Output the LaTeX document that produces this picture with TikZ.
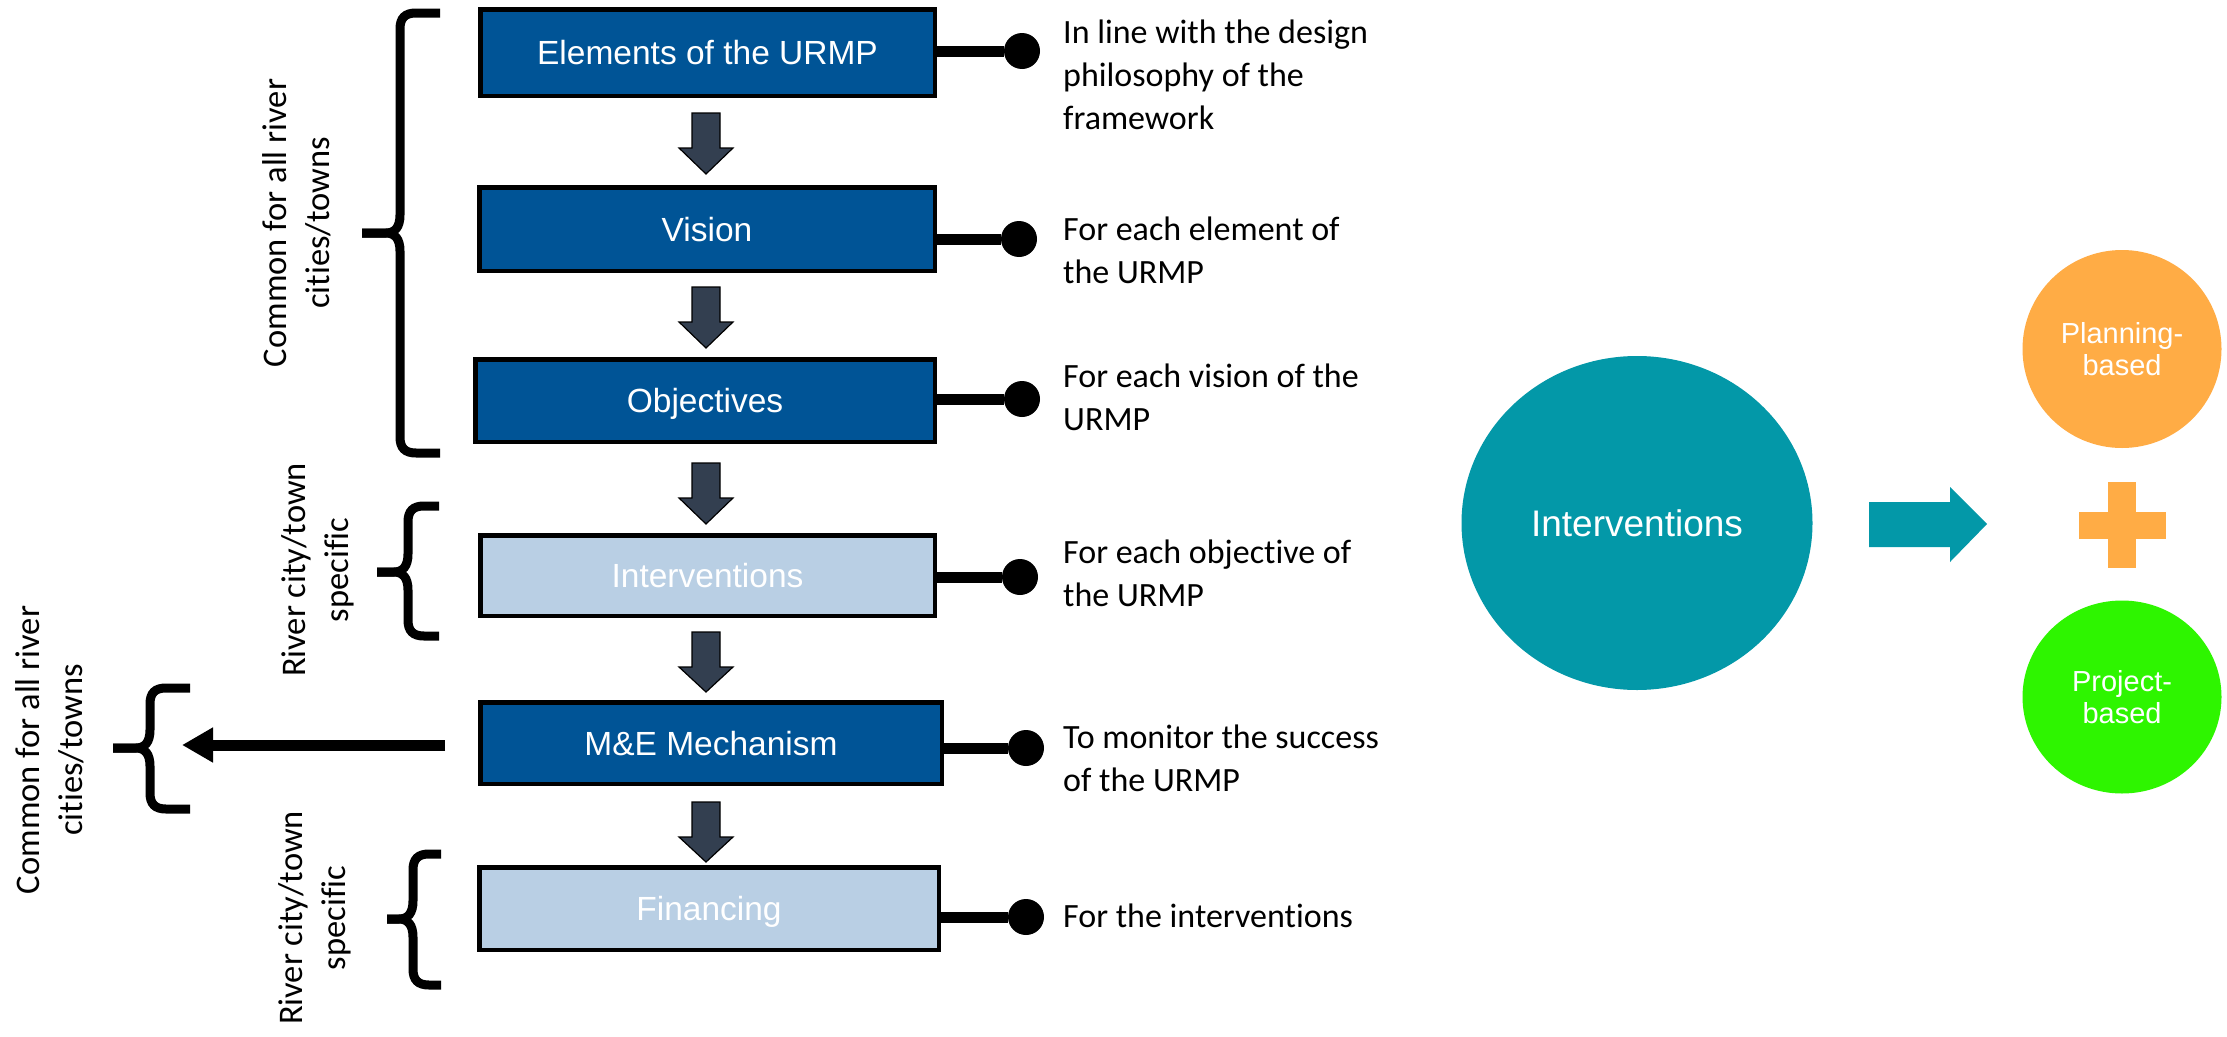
\documentclass[tikz,border=0pt]{standalone}
\usepackage{fontspec}
\setmainfont{Carlito}[Ligatures=NoCommon]
\newfontfamily\arialf{Liberation Sans}
\usetikzlibrary{shapes.geometric,arrows.meta,calc}
\definecolor{dblue}{HTML}{005496}
\definecolor{lblue}{HTML}{B9CFE4}
\definecolor{arrg}{HTML}{333F50}
\definecolor{tealc}{HTML}{0398A8}
\definecolor{orangec}{HTML}{FFAC45}
\definecolor{greenc}{HTML}{2EF500}
\tikzset{
  bx/.style={rectangle, draw=black, line width=4.5pt, inner sep=0pt,
    font=\arialf\fontsize{33.5}{38}\selectfont, text=white, text height=24pt, text depth=0pt},
  dbx/.style={bx, fill=dblue},
  lbx/.style={bx, fill=lblue},
  darrow/.style={fill=arrg, draw=black, line width=1.2pt, line join=miter},
  conn/.style={line width=11pt, draw=black},
  dot/.style={circle, fill=black, inner sep=0pt, minimum size=36pt},
  note/.style={anchor=base west, align=left, inner sep=0pt, font=\fontsize{34}{43}\selectfont},
  rot/.style={rotate=90, align=center, inner sep=0pt, font=\fontsize{34.5}{43}\selectfont},
  bracestyle/.style={line width=9pt, draw=black, line cap=butt},
  larrow/.style={line width=11pt, draw=black, -{Triangle[length=31pt,width=33pt]}},
  blob/.style={ellipse, inner sep=0pt, text=white, align=center}
}
\newcommand\dnarrow[3]{\draw[darrow] ({#1-14},#2) -- ({#1+14},#2) -- ({#1+14},{#2+35}) -- ({#1+27},{#2+35}) -- (#1,#3) -- ({#1-27},{#2+35}) -- ({#1-14},{#2+35}) -- cycle;}
\newcommand\mybrace[6]{%
  \draw[bracestyle] (#3,#4) -- ({#2+16},#4) .. controls ({#2+5},#4) and (#2,{#4+5}) .. (#2,{#4+16})
     -- (#2,{#5-18}) .. controls (#2,{#5-6}) and ({#2-5},#5) .. ({#2-14},#5) -- (#1,#5);
  \draw[bracestyle] (#3,#6) -- ({#2+16},#6) .. controls ({#2+5},#6) and (#2,{#6-5}) .. (#2,{#6-16})
     -- (#2,{#5+18}) .. controls (#2,{#5+6}) and ({#2-5},#5) .. ({#2-14},#5) -- (#1,#5);
}
\begin{document}
\begin{tikzpicture}[x=1pt,y=-1pt]
\fill[white] (0,0) rectangle (2227,1036);
\useasboundingbox (0,0) rectangle (2227,1036);

% boxes
\node[dbx, minimum width=454.5pt, minimum height=86.5pt] (bE) at (707.5,52.5) {Elements of the URMP};
\node[dbx, minimum width=455.5pt, minimum height=83.5pt] (bV) at (707,229) {Vision};
\node[dbx, minimum width=459.5pt, minimum height=82.5pt] (bO) at (705,400.5) {Objectives};
\node[lbx, minimum width=454.5pt, minimum height=80.5pt] (bI) at (707.5,575.5) {Interventions};
\node[dbx, minimum width=461.5pt, minimum height=81.5pt] (bM) at (711,743) {M\&E Mechanism};
\node[lbx, minimum width=459.5pt, minimum height=82.5pt] (bF) at (709,908.5) {Financing};

% down arrows
\dnarrow{706}{113}{174}
\dnarrow{706}{287}{348}
\dnarrow{706}{463}{524}
\dnarrow{706}{632}{692}
\dnarrow{706}{802}{862}

% dots and connectors
\node[dot] (dE) at (1022,51) {};
\node[dot] (dV) at (1019,239) {};
\node[dot] (dO) at (1022,399) {};
\node[dot] (dI) at (1020,577) {};
\node[dot] (dM) at (1026,748) {};
\node[dot] (dF) at (1026,917) {};
\draw[conn] (bE.east |- dE) -- (dE);
\draw[conn] (bV.east |- dV) -- (dV);
\draw[conn] (bO.east |- dO) -- (dO);
\draw[conn] (bI.east |- dI) -- (dI);
\draw[conn] (bM.east |- dM) -- (dM);
\draw[conn] (bF.east |- dF) -- (dF);

% notes (anchor at baseline of last line)
\node[note] (nE) at (1063,129) {In line with the design\\philosophy of the\\framework};
\node[note] (nV) at (1063,283) {For each element of\\the URMP};
\node[note] (nO) at (1063,430) {For each vision of the\\URMP};
\node[note] (nI) at (1063,606) {For each objective of\\the URMP};
\node[note] (nM) at (1063,791) {To monitor the success\\of the URMP};
\node[note] (nF) at (1063,927) {For the interventions};

% braces
\mybrace{362}{400}{440}{13}{233}{453}
\mybrace{377}{408}{439}{506}{572}{636}
\mybrace{387}{413}{441}{854}{919}{985}
\mybrace{113}{150}{190}{688}{748}{809}

% rotated labels
\node[rot] (r1) at (297,223) {Common for all river\\cities/towns};
\node[rot] (r2) at (318,570) {River city/town\\specific};
\node[rot] (r3) at (315,918) {River city/town\\specific};
\node[rot] (r4) at (50,750) {Common for all river\\cities/towns};

% left arrow
\coordinate (la) at (182,745);
\draw[larrow] ($(bM.west |- la)+(-33,0)$) -- (la);

% right part
\node[blob, fill=tealc, minimum width=351pt, minimum height=334pt,
  font=\arialf\fontsize{37}{40}\selectfont, text height=26.5pt, text depth=0pt] (cI) at (1637,523) {Interventions};
\node[blob, fill=orangec, minimum width=199pt, minimum height=198pt,
  font=\arialf\fontsize{29}{32}\selectfont] (cP) at (2122,349) {Planning-\\based};
\node[blob, fill=greenc, minimum width=199pt, minimum height=193pt,
  font=\arialf\fontsize{29}{32}\selectfont] (cJ) at (2122,697) {Project-\\based};
\fill[tealc] (1869,502) -- (1950,502) -- (1950,487) -- (1987,524) -- (1950,562) -- (1950,547) -- (1869,547) -- cycle;
\fill[orangec] (2108,482) rectangle (2136,568);
\fill[orangec] (2079,512) rectangle (2166,539);
\end{tikzpicture}
\end{document}
